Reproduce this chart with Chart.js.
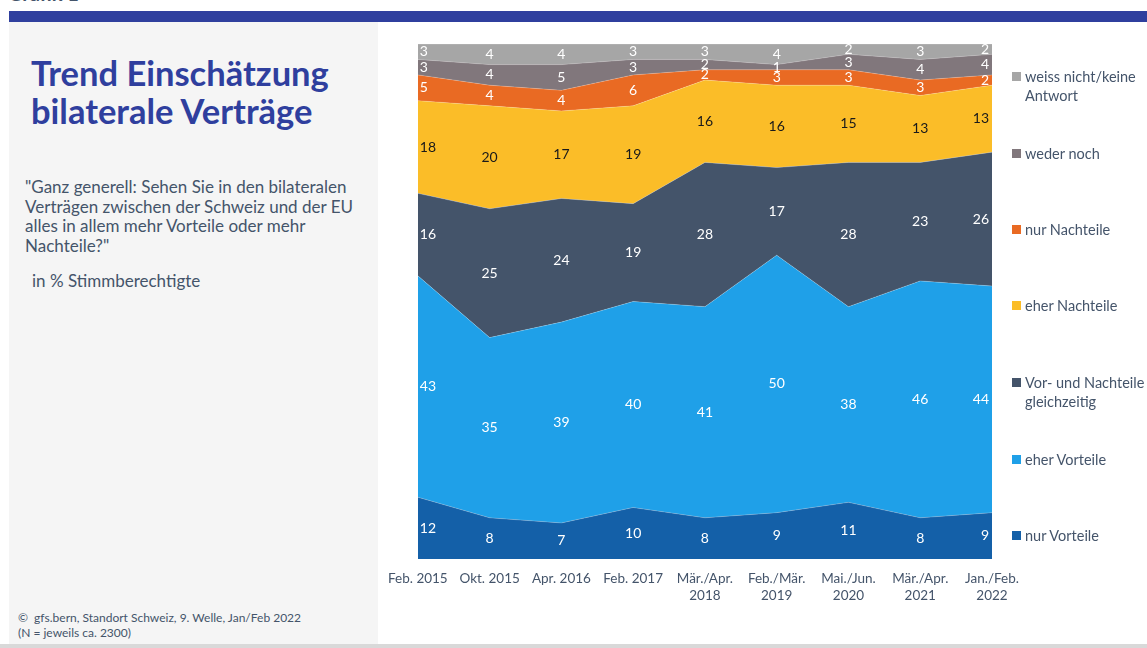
<!DOCTYPE html>
<html lang="de">
<head>
<meta charset="utf-8">
<title>Trend Einschätzung bilaterale Verträge</title>
<script src="https://cdn.jsdelivr.net/npm/chart.js@4.4.1/dist/chart.umd.min.js"></script>
<style>
  html, body { margin: 0; padding: 0; background: #fff; }
  body { width: 1147px; height: 648px; position: relative; overflow: hidden; font-family: Lato, "Open Sans", sans-serif; }
  .grafik { position: absolute; left: 8px; top: -19px; font-size: 20px; font-weight: bold; color: #44546a; }
  .topbar { position: absolute; left: 9px; top: 11px; width: 1138px; height: 11px; background: #2f3f9e; }
  .panel  { position: absolute; left: 9px; top: 22px; width: 369px; height: 622px; background: #f5f5f5; }
  .bottomline { position: absolute; left: 0; top: 644px; width: 1147px; height: 4px; background: #d9d9d9; }
  .title { position: absolute; left: 31px; top: 54px; font-size: 34.5px; line-height: 38px; font-weight: bold; color: #2f3f9e; }
  .question { position: absolute; left: 25px; top: 177px; font-size: 17px; line-height: 19.7px; color: #44546a; }
  .unit { position: absolute; left: 32px; top: 270px; font-size: 17px; color: #44546a; }
  .source { position: absolute; left: 18px; top: 610px; font-size: 12px; line-height: 15px; color: #44546a; }
  #wrap { position: absolute; left: 376px; top: 30px; width: 664px; height: 600px; }
  .legend { position: absolute; left: 1012px; top: 0; z-index: 2; }
  .legend .item { position: absolute; left: 0; width: 140px; font-size: 14.5px; line-height: 19px; color: #44546a; white-space: nowrap; }
  .legend .sw { position: absolute; left: 0; top: 5px; width: 9px; height: 9px; }
  .legend .tx { position: absolute; left: 13px; top: 0; }
</style>
</head>
<body>
<div class="grafik">Grafik 1</div>
<div class="topbar"></div>
<div class="panel"></div>
<div class="bottomline"></div>
<div class="title">Trend Einschätzung<br>bilaterale Verträge</div>
<div class="question">"Ganz generell: Sehen Sie in den bilateralen<br>Verträgen zwischen der Schweiz und der EU<br>alles in allem mehr Vorteile oder mehr<br>Nachteile?"</div>
<div class="unit">in % Stimmberechtigte</div>
<div class="source">©&nbsp; gfs.bern, Standort Schweiz, 9. Welle, Jan/Feb 2022<br>(N = jeweils ca. 2300)</div>
<div id="wrap"><canvas id="chart"></canvas></div>
<div class="legend" id="legend"></div>

<script>
// ─── Data (in % Stimmberechtigte) ─────────────────────────────────────
const waves = [
  "Feb. 2015", "Okt. 2015", "Apr. 2016", "Feb. 2017",
  ["Mär./Apr.", "2018"], ["Feb./Mär.", "2019"], ["Mai./Jun.", "2020"],
  ["Mär./Apr.", "2021"], ["Jan./Feb.", "2022"],
];

const nurVorteile     = [12,  8,  7, 10,  8,  9, 11,  8,  9];
const eherVorteile    = [43, 35, 39, 40, 41, 50, 38, 46, 44];
const gleichzeitig    = [16, 25, 24, 19, 28, 17, 28, 23, 26];
const eherNachteile   = [18, 20, 17, 19, 16, 16, 15, 13, 13];
const nurNachteile    = [ 5,  4,  4,  6,  2,  3,  3,  3,  2];
const wederNoch       = [ 3,  4,  5,  3,  2,  1,  3,  4,  4];
const weissNicht      = [ 3,  4,  4,  3,  3,  4,  2,  3,  2];

// bottom -> top
const SERIES = [
  { label: "nur Vorteile",                     data: nurVorteile,   color: "#1460a8", text: "#fff" },
  { label: "eher Vorteile",                    data: eherVorteile,  color: "#1fa0e8", text: "#fff" },
  { label: "Vor- und Nachteile\ngleichzeitig", data: gleichzeitig,  color: "#44546a", text: "#fff" },
  { label: "eher Nachteile",                   data: eherNachteile, color: "#fbbd28", text: "#1a1a1a" },
  { label: "nur Nachteile",                    data: nurNachteile,  color: "#e96a23", text: "#fff" },
  { label: "weder noch",                       data: wederNoch,     color: "#81777c", text: "#fff" },
  { label: "weiss nicht/keine\nAntwort",       data: weissNicht,    color: "#a6a6a6", text: "#fff" },
];

// legend y offsets (top of first text line), top -> bottom
const LEGEND_TOPS = [67, 144, 220, 296, 373, 450, 526];

// ─── Value labels in the middle of each band ──────────────────────────
const bandLabels = {
  id: "bandLabels",
  afterDatasetsDraw(chart) {
    const { ctx, scales: { y } } = chart;
    ctx.save();
    ctx.font = "14px Lato, 'Open Sans', sans-serif";
    ctx.textBaseline = "middle";
    const cum = new Array(waves.length).fill(0);
    chart.data.datasets.forEach((ds, i) => {
      const meta = chart.getDatasetMeta(i);
      ds.data.forEach((v, j) => {
        const mid = cum[j] + v / 2;
        cum[j] += v;
        const px = meta.data[j].x;
        let x = px, align = "center";
        if (j === 0) { x = px + 2; align = "left"; }
        else if (j === waves.length - 1) { x = px - 3; align = "right"; }
        ctx.textAlign = align;
        ctx.fillStyle = SERIES[i].text;
        ctx.fillText(String(v), x, y.getPixelForValue(mid));
      });
    });
    ctx.restore();
  },
};

const ctx = document.getElementById("chart").getContext("2d");
new Chart(ctx, {
  type: "line",
  data: {
    labels: waves,
    datasets: SERIES.map((s, i) => ({
      label: s.label,
      data: s.data,
      backgroundColor: s.color,
      borderColor: "rgba(255,255,255,0.35)",
      borderWidth: 0.6,
      fill: i === 0 ? "origin" : "-1",
      pointRadius: 0,
      tension: 0,
    })),
  },
  options: {
    responsive: true,
    maintainAspectRatio: false,
    animation: false,
    layout: { padding: { left: 39, right: 48, top: 14, bottom: 11 } },
    plugins: { legend: { display: false }, tooltip: { enabled: false } },
    scales: {
      x: {
        offset: false,
        grid: { display: false, drawTicks: false },
        border: { display: false },
        ticks: {
          color: "#44546a",
          font: { size: 13.5, family: "Lato, 'Open Sans', sans-serif" },
          padding: 12,
          maxRotation: 0,
          autoSkip: false,
        },
        afterFit(scale) { scale.height = 60; },
      },
      y: {
        display: false,
        stacked: true,
        min: 0,
        max: 100,
      },
    },
  },
  plugins: [bandLabels],
});

// ─── HTML legend ──────────────────────────────────────────────────────
const legendEl = document.getElementById("legend");
SERIES.slice().reverse().forEach((s, k) => {
  const item = document.createElement("div");
  item.className = "item";
  item.style.top = LEGEND_TOPS[k] + "px";
  item.innerHTML = `<span class="sw" style="background:${s.color}"></span><span class="tx">${s.label.replace("\n", "<br>")}</span>`;
  legendEl.appendChild(item);
});
</script>
</body>
</html>
